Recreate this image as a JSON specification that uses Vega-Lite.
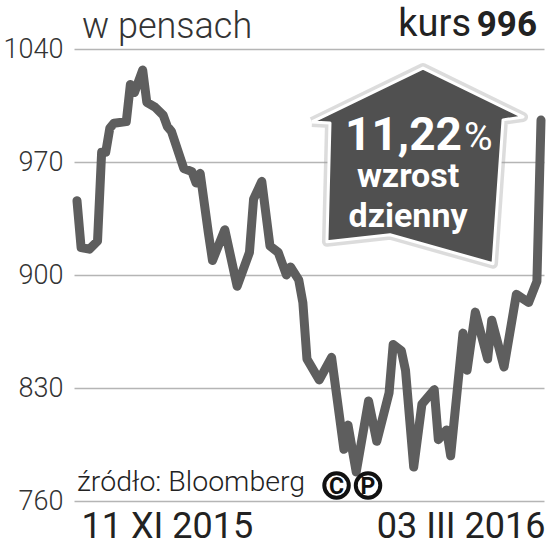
{
  "$schema": "https://vega.github.io/schema/vega-lite/v6.json",
  "width": 470,
  "height": 452,
  "autosize": {"type": "none"},
  "padding": {"left": 74, "top": 49, "right": 3, "bottom": 50},
  "background": "white",
  "config": {"view": {"stroke": null}, "font": "Roboto"},
  "encoding": {
    "x": {
      "field": "data",
      "type": "temporal",
      "scale": {"domain": [{"year": 2015, "month": 11, "date": 10, "hours": 6, "minutes": 30}, {"year": 2016, "month": 3, "date": 3, "hours": 17, "minutes": 30}]},
      "axis": {
        "values": [{"year": 2015, "month": 11, "date": 11}, {"year": 2016, "month": 3, "date": 3}],
        "labelExpr": "timeFormat(datum.value, '%d') + ' ' + ['I','II','III','IV','V','VI','VII','VIII','IX','X','XI','XII'][month(datum.value)] + ' ' + timeFormat(datum.value, '%Y')",
        "labelAlign": {"condition": {"test": "year(datum.value) == 2015", "value": "left"}, "value": "right"},
        "grid": false,
        "ticks": false,
        "domain": false,
        "labelFontSize": 36,
        "labelColor": "#222222",
        "labelPadding": 8,
        "labelOffset": 4,
        "labelFlush": false,
        "labelOverlap": false,
        "title": null
      }
    },
    "y": {
      "field": "kurs",
      "type": "quantitative",
      "scale": {"domain": [760, 1040], "nice": false, "zero": false},
      "axis": {
        "values": [760, 830, 900, 970, 1040],
        "format": "d",
        "grid": true,
        "gridColor": "#b5b5b5",
        "gridWidth": 1.5,
        "ticks": false,
        "domain": false,
        "labelFontSize": 27,
        "labelFontWeight": 300,
        "labelColor": "#333333",
        "labelPadding": 11,
        "title": null
      }
    }
  },
  "layer": [
    {
      "data": {"values": [
        {"data": "2015-11-11T00:00", "kurs": 946},
        {"data": "2015-11-12T00:00", "kurs": 917},
        {"data": "2015-11-14T00:00", "kurs": 916},
        {"data": "2015-11-16T00:00", "kurs": 921},
        {"data": "2015-11-17T00:00", "kurs": 976},
        {"data": "2015-11-18T00:00", "kurs": 976},
        {"data": "2015-11-19T00:00", "kurs": 991},
        {"data": "2015-11-20T00:00", "kurs": 994},
        {"data": "2015-11-23T00:00", "kurs": 995},
        {"data": "2015-11-24T00:00", "kurs": 1018},
        {"data": "2015-11-25T00:00", "kurs": 1013},
        {"data": "2015-11-27T00:00", "kurs": 1027},
        {"data": "2015-11-28T00:00", "kurs": 1007},
        {"data": "2015-11-30T00:00", "kurs": 1004},
        {"data": "2015-12-02T00:00", "kurs": 999},
        {"data": "2015-12-03T00:00", "kurs": 992},
        {"data": "2015-12-04T00:00", "kurs": 989},
        {"data": "2015-12-07T00:00", "kurs": 966},
        {"data": "2015-12-09T00:00", "kurs": 964},
        {"data": "2015-12-10T00:00", "kurs": 957},
        {"data": "2015-12-11T00:00", "kurs": 963},
        {"data": "2015-12-13T00:00", "kurs": 926},
        {"data": "2015-12-14T00:00", "kurs": 909},
        {"data": "2015-12-17T00:00", "kurs": 928},
        {"data": "2015-12-20T00:00", "kurs": 893},
        {"data": "2015-12-23T00:00", "kurs": 914},
        {"data": "2015-12-24T00:00", "kurs": 947},
        {"data": "2015-12-26T00:00", "kurs": 958},
        {"data": "2015-12-28T00:00", "kurs": 918},
        {"data": "2015-12-30T00:00", "kurs": 914},
        {"data": "2016-01-01T00:00", "kurs": 900},
        {"data": "2016-01-02T00:00", "kurs": 905},
        {"data": "2016-01-04T00:00", "kurs": 897},
        {"data": "2016-01-05T00:00", "kurs": 883},
        {"data": "2016-01-06T00:00", "kurs": 848},
        {"data": "2016-01-09T00:00", "kurs": 835},
        {"data": "2016-01-12T00:00", "kurs": 849},
        {"data": "2016-01-15T00:00", "kurs": 792},
        {"data": "2016-01-16T00:00", "kurs": 807},
        {"data": "2016-01-18T00:00", "kurs": 778},
        {"data": "2016-01-21T00:00", "kurs": 822},
        {"data": "2016-01-23T00:00", "kurs": 797},
        {"data": "2016-01-26T00:00", "kurs": 827},
        {"data": "2016-01-27T00:00", "kurs": 857},
        {"data": "2016-01-29T00:00", "kurs": 853},
        {"data": "2016-01-30T00:00", "kurs": 841},
        {"data": "2016-02-01T00:00", "kurs": 781},
        {"data": "2016-02-03T00:00", "kurs": 820},
        {"data": "2016-02-06T00:00", "kurs": 829},
        {"data": "2016-02-07T00:00", "kurs": 798},
        {"data": "2016-02-09T00:00", "kurs": 804},
        {"data": "2016-02-10T00:00", "kurs": 788},
        {"data": "2016-02-13T00:00", "kurs": 864},
        {"data": "2016-02-14T00:00", "kurs": 841},
        {"data": "2016-02-16T00:00", "kurs": 877},
        {"data": "2016-02-19T00:00", "kurs": 848},
        {"data": "2016-02-20T00:00", "kurs": 872},
        {"data": "2016-02-23T00:00", "kurs": 843},
        {"data": "2016-02-26T00:00", "kurs": 888},
        {"data": "2016-02-29T00:00", "kurs": 883},
        {"data": "2016-03-02T00:00", "kurs": 896},
        {"data": "2016-03-03T00:00", "kurs": 996}
      ]},
      "mark": {"type": "line", "color": "#5e5e5e", "strokeWidth": 9, "strokeCap": "round", "strokeJoin": "round"}
    },
    {
      "data": {"name": "dom", "values": [
        {"k": 1, "data": "2016-01-07T05:30", "kurs": 994.8},
        {"k": 2, "data": "2016-02-03T06:15", "kurs": 1028.2},
        {"k": 3, "data": "2016-02-27T15:00", "kurs": 997.9},
        {"k": 4, "data": "2016-02-22T18:00", "kurs": 996.1},
        {"k": 5, "data": "2016-02-20T07:30", "kurs": 907.0},
        {"k": 6, "data": "2016-01-26T05:30", "kurs": 924.9},
        {"k": 7, "data": "2016-01-10T21:00", "kurs": 920.6},
        {"k": 8, "data": "2016-01-11T14:40", "kurs": 994.2},
        {"k": 9, "data": "2016-01-07T05:30", "kurs": 994.8}
      ]},
      "mark": {"type": "line", "stroke": "#9a9a9a", "strokeWidth": 10, "opacity": 0.35, "strokeJoin": "round"},
      "encoding": {"order": {"field": "k", "type": "quantitative"}}
    },
    {
      "data": {"name": "dom"},
      "mark": {"type": "line", "fill": "#505050", "stroke": "#ffffff", "strokeWidth": 3, "strokeJoin": "round"},
      "encoding": {"order": {"field": "k", "type": "quantitative"}}
    },
    {
      "data": {"values": [{"data": "2016-02-12T18:00", "kurs": 977.5, "tekst": "11,22"}]},
      "mark": {"type": "text", "align": "right", "baseline": "alphabetic", "fontSize": 46, "fontWeight": "bold", "color": "#ffffff"},
      "encoding": {"text": {"field": "tekst"}}
    },
    {
      "data": {"values": [{"data": "2016-02-12T18:00", "kurs": 977.5, "tekst": "%"}]},
      "mark": {"type": "text", "align": "left", "baseline": "alphabetic", "dx": 2, "fontSize": 39, "fontWeight": "normal", "color": "#ffffff"},
      "encoding": {"text": {"field": "tekst"}}
    },
    {
      "data": {"values": [
        {"data": "2016-01-30T15:00", "kurs": 954.6, "tekst": "wzrost"},
        {"data": "2016-01-30T15:00", "kurs": 929.9, "tekst": "dzienny"}
      ]},
      "mark": {"type": "text", "align": "center", "baseline": "alphabetic", "fontSize": 34, "fontWeight": "bold", "color": "#ffffff"},
      "encoding": {"text": {"field": "tekst"}}
    },
    {
      "data": {"values": [{"data": "2015-11-11T00:00", "kurs": 1046.8, "tekst": "w pensach"}]},
      "mark": {"type": "text", "align": "left", "baseline": "alphabetic", "dx": 5, "fontSize": 36, "fontWeight": 300, "color": "#333333"},
      "encoding": {"text": {"field": "tekst"}}
    },
    {
      "data": {"values": [{"data": "2016-03-03T00:00", "kurs": 1048, "tekst": "996"}]},
      "mark": {"type": "text", "align": "right", "baseline": "alphabetic", "dx": -4, "fontSize": 35, "fontWeight": "bold", "color": "#222222"},
      "encoding": {"text": {"field": "tekst"}}
    },
    {
      "data": {"values": [{"data": "2016-03-03T00:00", "kurs": 1048, "tekst": "kurs"}]},
      "mark": {"type": "text", "align": "right", "baseline": "alphabetic", "dx": -70, "fontSize": 38, "fontWeight": "normal", "color": "#222222"},
      "encoding": {"text": {"field": "tekst"}}
    },
    {
      "data": {"values": [{"data": "2015-11-11T00:00", "kurs": 765.9, "tekst": "źródło: Bloomberg"}]},
      "mark": {"type": "text", "align": "left", "baseline": "alphabetic", "fontSize": 28.5, "fontWeight": 300, "color": "#222222"},
      "encoding": {"text": {"field": "tekst"}}
    },
    {
      "data": {"name": "znaki", "values": [
        {"data": "2016-01-13T05:00", "kurs": 769.6, "tekst": "C"},
        {"data": "2016-01-20T21:00", "kurs": 769.6, "tekst": "P"}
      ]},
      "mark": {"type": "point", "shape": "circle", "size": 600, "filled": false, "stroke": "#111111", "strokeWidth": 4, "opacity": 1}
    },
    {
      "data": {"name": "znaki"},
      "mark": {"type": "text", "align": "center", "baseline": "middle", "dy": 1, "fontSize": 23, "fontWeight": "bold", "color": "#111111"},
      "encoding": {"text": {"field": "tekst"}}
    }
  ]
}
